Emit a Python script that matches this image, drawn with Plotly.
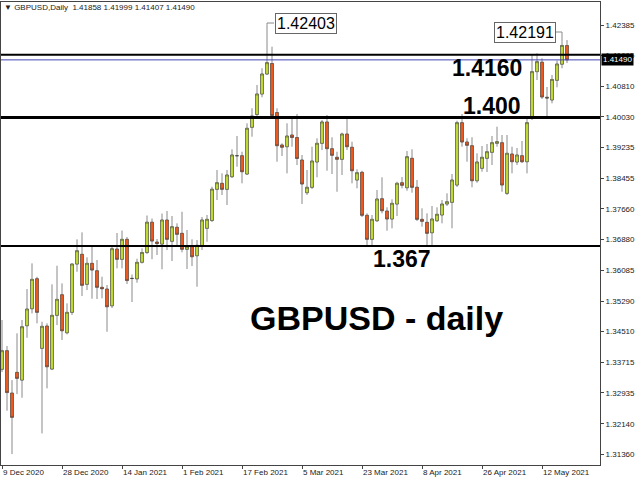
import plotly.graph_objects as go

# ---------------- data ----------------
opens = [
    1.33540, 1.34018, 1.32929, 1.33461, 1.33263, 1.34659, 1.35096, 1.35867, 1.34078, 1.34651,
    1.33546, 1.34926, 1.35455, 1.34479, 1.35003, 1.36244, 1.36494, 1.35723, 1.36262, 1.36072,
    1.35646, 1.35602, 1.35173, 1.36630, 1.36365, 1.36879, 1.35877, 1.35864, 1.36290, 1.36540,
    1.37319, 1.36810, 1.36758, 1.37375, 1.36828, 1.37188, 1.37033, 1.36622, 1.36689, 1.36458,
    1.36707, 1.37162, 1.37362, 1.38164, 1.38318, 1.38164, 1.38488, 1.39028, 1.39028, 1.38557,
    1.39758, 1.40087, 1.40613, 1.41127, 1.41397, 1.40138, 1.39303, 1.39259, 1.39560, 1.39495,
    1.38917, 1.38077, 1.38216, 1.38866, 1.39346, 1.39894, 1.39208, 1.38987, 1.38935, 1.39585,
    1.39244, 1.38403, 1.38601, 1.37496, 1.36879, 1.37357, 1.37923, 1.37606, 1.37401, 1.37786,
    1.38334, 1.38205, 1.38961, 1.38216, 1.37393, 1.37316, 1.37049, 1.37357, 1.37504, 1.37786,
    1.37830, 1.38275, 1.39876, 1.39380, 1.39285, 1.38385, 1.38704, 1.38961, 1.39115, 1.39346,
    1.39362, 1.38061, 1.39071, 1.38866, 1.39028, 1.38873, 1.39990, 1.41187, 1.41431, 1.40529,
    1.40459, 1.40965, 1.41379, 1.41858]

highs = [
    1.34806, 1.34138, 1.33263, 1.34463, 1.34806, 1.35602, 1.36262, 1.35918, 1.34761, 1.34720,
    1.35723, 1.36201, 1.35748, 1.35234, 1.36262, 1.36879, 1.37059, 1.36417, 1.36689, 1.36347,
    1.35918, 1.35705, 1.36694, 1.37041, 1.37105, 1.36938, 1.35975, 1.36381, 1.36648, 1.37491,
    1.37414, 1.36887, 1.37542, 1.37606, 1.37478, 1.37290, 1.37588, 1.37118, 1.36879, 1.36861,
    1.37452, 1.37504, 1.38231, 1.38660, 1.38575, 1.38660, 1.39192, 1.39534, 1.39130, 1.39860,
    1.40246, 1.40845, 1.41274, 1.42403, 1.41829, 1.40246, 1.39346, 1.39860, 1.39997, 1.40099,
    1.39046, 1.38660, 1.39259, 1.39475, 1.39945, 1.40074, 1.39501, 1.39130, 1.39619, 1.39990,
    1.39387, 1.38678, 1.38642, 1.37547, 1.37504, 1.38146, 1.38473, 1.37702, 1.37907, 1.38359,
    1.38480, 1.39148, 1.39192, 1.38403, 1.37676, 1.37547, 1.37735, 1.37702, 1.37889, 1.38061,
    1.38557, 1.39927, 1.40099, 1.39475, 1.39501, 1.39089, 1.39277, 1.39328, 1.39534, 1.39773,
    1.39560, 1.39560, 1.39259, 1.39226, 1.39405, 1.40022, 1.41641, 1.41659, 1.41531, 1.40793,
    1.41102, 1.41474, 1.41958, 1.41999]

lows = [
    1.33470, 1.32476, 1.31361, 1.32903, 1.32808, 1.34350, 1.34977, 1.34720, 1.31893, 1.33050,
    1.33520, 1.34677, 1.34291, 1.34438, 1.34934, 1.36046, 1.35422, 1.35576, 1.35353, 1.35345,
    1.35363, 1.34504, 1.35114, 1.36134, 1.36134, 1.35730, 1.35268, 1.35764, 1.36257, 1.36501,
    1.36368, 1.36476, 1.36111, 1.36604, 1.36321, 1.36689, 1.36545, 1.36116, 1.36193, 1.35661,
    1.36604, 1.36817, 1.37324, 1.37889, 1.38018, 1.37761, 1.38455, 1.38745, 1.38318, 1.38532,
    1.39516, 1.40048, 1.40529, 1.41102, 1.40022, 1.38873, 1.39020, 1.38575, 1.39259, 1.38789,
    1.37786, 1.38018, 1.38172, 1.38473, 1.39174, 1.38642, 1.38557, 1.38102, 1.38532, 1.39174,
    1.38318, 1.38190, 1.37452, 1.36733, 1.36733, 1.37324, 1.37547, 1.37100, 1.37162, 1.37478,
    1.38190, 1.38128, 1.38077, 1.37349, 1.37203, 1.36733, 1.36733, 1.37324, 1.37290, 1.37735,
    1.37162, 1.38223, 1.39259, 1.38873, 1.38216, 1.38334, 1.38616, 1.38609, 1.38789, 1.39259,
    1.38102, 1.38018, 1.38575, 1.38789, 1.38840, 1.38575, 1.39945, 1.40973, 1.40485, 1.40030,
    1.40374, 1.40786, 1.41274, 1.41407]

closes = [
    1.34018, 1.32942, 1.32305, 1.33307, 1.34633, 1.35088, 1.35851, 1.35003, 1.34643, 1.33605,
    1.34926, 1.35337, 1.34530, 1.35003, 1.36244, 1.36586, 1.35697, 1.36262, 1.36090, 1.35646,
    1.35610, 1.35147, 1.36638, 1.36365, 1.36879, 1.35820, 1.35872, 1.36288, 1.36540, 1.37319,
    1.36835, 1.36771, 1.37375, 1.36879, 1.37203, 1.37008, 1.36622, 1.36689, 1.36432, 1.36725,
    1.37375, 1.37393, 1.38167, 1.38334, 1.38164, 1.38532, 1.39046, 1.39028, 1.38616, 1.39732,
    1.40048, 1.40613, 1.41127, 1.41418, 1.40061, 1.39285, 1.39244, 1.39534, 1.39495, 1.38956,
    1.38300, 1.38216, 1.38891, 1.39346, 1.39894, 1.39208, 1.39038, 1.38935, 1.39585, 1.39259,
    1.38642, 1.38591, 1.37496, 1.36879, 1.37393, 1.37915, 1.37614, 1.37401, 1.37804, 1.38318,
    1.38267, 1.39002, 1.38216, 1.37393, 1.37342, 1.37033, 1.37401, 1.37522, 1.37786, 1.37845,
    1.38403, 1.39876, 1.39380, 1.39295, 1.38385, 1.38866, 1.38987, 1.39130, 1.39362, 1.39387,
    1.38275, 1.39089, 1.38873, 1.39046, 1.38873, 1.39876, 1.41187, 1.41444, 1.40536, 1.40511,
    1.40986, 1.41384, 1.41860, 1.41490]

x_tick_idx = [0, 12, 24, 36, 48, 60, 72, 84, 96, 108]
x_tick_text = ["9 Dec 2020", "28 Dec 2020", "14 Jan 2021", "1 Feb 2021", "17 Feb 2021",
               "5 Mar 2021", "23 Mar 2021", "8 Apr 2021", "26 Apr 2021", "12 May 2021"]
y_tick_vals = [1.42385, 1.41605, 1.40810, 1.40030, 1.39235, 1.38455, 1.37660, 1.36880,
               1.36085, 1.35290, 1.34510, 1.33715, 1.32935, 1.32140, 1.31360]

level_prices = [1.41620, 1.40010, 1.36708]
level_labels = ["1.4160", "1.400", "1.367"]
peak_labels = ["1.42403", "1.42191"]
peak_idx = [53, 112]
symbol = "GBPUSD,Daily"
title_text = "GBPUSD - daily"

# ---------------- styling ----------------
BULL = "#c6e034"
BEAR = "#f65a1c"
EDGE = "#404040"
WICK = "#8a8a8a"
AXIS = "#444444"
TXT = "#222222"
FONT = "Liberation Sans, Arial, sans-serif"

xs = list(range(len(opens)))
body_hi = [max(o, c) for o, c in zip(opens, closes)]
body_lo = [min(o, c) for o, c in zip(opens, closes)]

fig = go.Figure()
# wicks
fig.add_trace(go.Candlestick(
    x=xs, open=opens, high=highs, low=lows, close=closes,
    increasing=dict(line=dict(color=WICK, width=1), fillcolor=WICK),
    decreasing=dict(line=dict(color=WICK, width=1), fillcolor=WICK),
    whiskerwidth=0, showlegend=False, hoverinfo="skip"))
# bodies
fig.add_trace(go.Candlestick(
    x=xs, open=opens, high=body_hi, low=body_lo, close=closes,
    increasing=dict(line=dict(color=EDGE, width=0.5), fillcolor=BULL),
    decreasing=dict(line=dict(color=EDGE, width=0.5), fillcolor=BEAR),
    whiskerwidth=0, showlegend=False))

shapes = []
for p, w in zip(level_prices, [2, 3, 2]):
    shapes.append(dict(type="line", xref="paper", x0=0, x1=1, yref="y", y0=p, y1=p,
                       line=dict(color="black", width=w), layer="above"))
# bid line
bid = closes[-1]
shapes.append(dict(type="line", xref="paper", x0=0, x1=1, yref="y", y0=bid, y1=bid,
                   line=dict(color="#4646b4", width=1), layer="above"))

# peak label connectors
lab1_y = 1.42437
lab2_y = 1.42206
shapes.append(dict(type="line", x0=peak_idx[0], x1=peak_idx[0], y0=highs[peak_idx[0]], y1=lab1_y,
                   line=dict(color=WICK, width=1)))
shapes.append(dict(type="line", x0=peak_idx[0], x1=54.4, y0=lab1_y, y1=lab1_y,
                   line=dict(color=WICK, width=1)))
shapes.append(dict(type="line", x0=peak_idx[1], x1=peak_idx[1], y0=highs[peak_idx[1]], y1=lab2_y,
                   line=dict(color=WICK, width=1)))
shapes.append(dict(type="line", x0=110.8, x1=peak_idx[1], y0=lab2_y, y1=lab2_y,
                   line=dict(color=WICK, width=1)))

annotations = []
# date labels (left aligned at tick)
for i, t in zip(x_tick_idx, x_tick_text):
    annotations.append(dict(x=i, xref="x", y=0, yref="paper", yanchor="top", xanchor="left",
                            text=t, showarrow=False, font=dict(family=FONT, size=8, color=TXT),
                            yshift=-1, xshift=-1))
# header
annotations.append(dict(x=0, xref="paper", y=1, yref="paper", xanchor="left", yanchor="top",
                        text="▼ %s  %.5f %.5f %.5f %.5f" % (symbol, opens[-1], highs[-1], lows[-1], closes[-1]),
                        showarrow=False, font=dict(family=FONT, size=8, color=TXT), xshift=1, yshift=1))
# bid price tag
annotations.append(dict(x=1, xref="paper", y=bid, yref="y", xanchor="left", yanchor="middle",
                        text="%.5f" % bid, showarrow=False, bgcolor="black",
                        font=dict(family=FONT, size=8, color="white"), borderpad=1, xshift=1))
# peak boxed labels
annotations.append(dict(x=60.8, y=lab1_y, text=peak_labels[0], showarrow=False,
                        font=dict(family=FONT, size=16, color="black"), bgcolor="white",
                        bordercolor="#666666", borderwidth=1, borderpad=1))
annotations.append(dict(x=104.5, y=lab2_y, text=peak_labels[1], showarrow=False,
                        font=dict(family=FONT, size=16, color="black"), bgcolor="white",
                        bordercolor="#666666", borderwidth=1, borderpad=1))
# level labels
bold = dict(family=FONT, size=23, color="black", weight="bold")
annotations.append(dict(x=96.9, y=1.41294, text=level_labels[0], showarrow=False, font=bold))
annotations.append(dict(x=98.0, y=1.40305, text=level_labels[1], showarrow=False, font=bold))
annotations.append(dict(x=80.0, y=1.36364, text=level_labels[2], showarrow=False, font=bold))
annotations.append(dict(x=74.9, y=1.34858, text=title_text, showarrow=False,
                        font=dict(family=FONT, size=34, color="black", weight="bold")))

fig.update_layout(
    width=640, height=480,
    margin=dict(l=1, r=40, t=2, b=15, autoexpand=False),
    paper_bgcolor="white", plot_bgcolor="white",
    showlegend=False, boxgap=0.2,
    shapes=shapes, annotations=annotations,
    xaxis=dict(range=[-0.2, 119.6], rangeslider=dict(visible=False), showgrid=False,
               zeroline=False, showline=True, mirror=True, linecolor=AXIS, linewidth=1,
               tickvals=x_tick_idx, showticklabels=False, ticks="outside", ticklen=3,
               tickcolor=AXIS, automargin=False),
    yaxis=dict(range=[1.31081, 1.42977], side="right", showgrid=False, zeroline=False,
               showline=True, mirror=True, linecolor=AXIS, linewidth=1,
               tickvals=y_tick_vals, ticktext=["%.5f" % v for v in y_tick_vals],
               ticks="outside", ticklen=3, tickcolor=AXIS,
               tickfont=dict(family=FONT, size=8, color=TXT), automargin=False),
)

fig.write_html("out.html", config={"displayModeBar": False},
               post_script="document.body.style.margin='0';document.body.style.overflow='hidden';")
